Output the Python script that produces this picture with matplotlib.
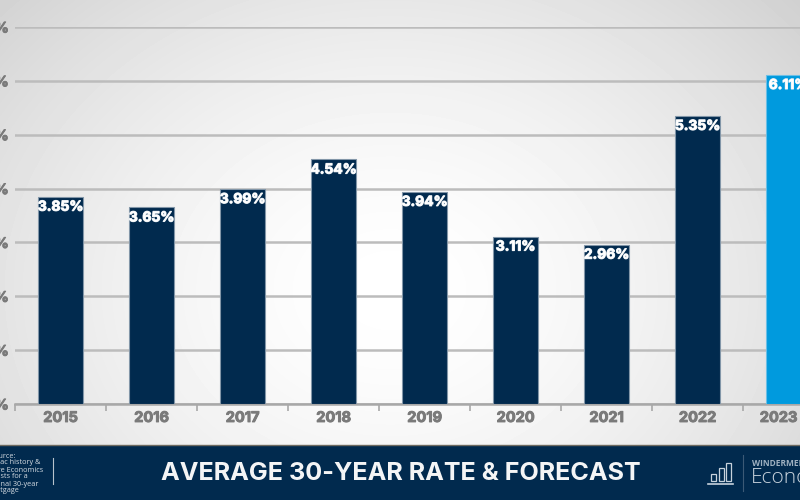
import numpy as np
import matplotlib
matplotlib.use("Agg")
import matplotlib.pyplot as plt
from matplotlib.patches import Rectangle
from matplotlib.transforms import ScaledTranslation
import matplotlib.patheffects as pe

years = ["2015", "2016", "2017", "2018", "2019", "2020", "2021", "2022", "2023"]
rates = [3.85, 3.65, 3.99, 4.54, 3.94, 3.11, 2.96, 5.35, 6.11]
rate_labels = ["3.85%", "3.65%", "3.99%", "4.54%", "3.94%", "3.11%", "2.96%", "5.35%", "6.11%"]
y_ticks = [0, 1, 2, 3, 4, 5, 6, 7]
y_labels = ["0%", "1%", "2%", "3%", "4%", "5%", "6%", "7%"]
title = "AVERAGE 30-YEAR RATE & FORECAST"
source_text = "Source:\nFreddie Mac history &\nWindermere Economics\nforecasts for a\nconventional 30-year\nmortgage"

NAVY = "#012a4e"
BLUE = "#009ade"
W, H = 800, 500

fig = plt.figure(figsize=(8, 5), dpi=100)

# page background: soft radial gradient
bg = fig.add_axes([0, 0, 1, 1], zorder=0)
bg.set_xlim(0, W); bg.set_ylim(H, 0); bg.axis("off")
yy, xx = np.mgrid[0:H, 0:W]
r = np.sqrt(((xx - 390) / 520.0) ** 2 + ((yy - 290) / 420.0) ** 2)
shade = 1.0 - 0.17 * np.clip(r, 0, 1.2) ** 1.6
bg.imshow(shade, cmap="gray", vmin=0, vmax=1, extent=(0, W, H, 0), aspect="auto")

# chart
left, right, top, bottom = 15, 834, 27, 404
ax = fig.add_axes([left / W, 1 - bottom / H, (right - left) / W, (bottom - top) / H], zorder=1)
ax.patch.set_alpha(0)
xpos = np.arange(len(years))
colors = [NAVY] * 8 + [BLUE]
edges = ["#8296a8"] * 8 + ["#6cbfe6"]
ax.bar(xpos, rates, width=0.5, color=colors, edgecolor=edges, linewidth=0.8, zorder=3)
ax.set_xlim(-0.5, 8.5)
ax.set_ylim(0, 7)
ax.set_yticks(y_ticks, y_labels)
ax.set_xticks(xpos, years)
ax.set_xticks(np.arange(-0.5, 9), minor=True)
ax.yaxis.grid(True, color="#bcbcbc", linewidth=1.8, zorder=1)
ax.set_axisbelow(True)
for s in ["top", "right", "left"]:
    ax.spines[s].set_visible(False)
ax.spines["bottom"].set_color("#a8a8a8")
ax.spines["bottom"].set_linewidth(1.8)
ax.tick_params(axis="x", which="major", length=0, pad=5, labelsize=10.5, labelcolor="#7a7a7a")
ax.tick_params(axis="x", which="minor", length=5, width=1.2, color="#a8a8a8")
ax.tick_params(axis="y", length=0, pad=4.5, labelsize=10.5, labelcolor="#7a7a7a")
for lab in ax.get_xticklabels() + ax.get_yticklabels():
    lab.set_fontfamily("Inter")
    lab.set_fontweight("bold")
    lab.set_path_effects([pe.withStroke(linewidth=0.7, foreground="#7a7a7a")])
# the last year label is pulled in so that it stays inside the picture
last = ax.get_xticklabels()[-1]
last.set_transform(last.get_transform() + ScaledTranslation(-10 / 100, 0, fig.dpi_scale_trans))

for x, v, t in zip(xpos, rates, rate_labels):
    ax.annotate(t, (x, v), xytext=(0, -2.2), textcoords="offset points", ha="center", va="top",
                color="white", fontsize=10, fontweight="bold", family="Inter", zorder=5,
                annotation_clip=False,
                path_effects=[pe.withStroke(linewidth=0.8, foreground="#e8edf1")])

# footer
ov = fig.add_axes([0, 0, 1, 1], zorder=2)
ov.set_xlim(0, W); ov.set_ylim(H, 0); ov.axis("off"); ov.patch.set_alpha(0)
ov.add_patch(Rectangle((0, 445), W, 55, color=NAVY, lw=0))
ov.plot([0, W], [444.5, 444.5], color="#6e6a60", lw=1)
ov.text(401, 473, title, color="#f4f5f6", ha="center", va="center", fontsize=18.1,
        fontweight="bold", family="Inter")
ov.text(3, 473.5, source_text, color="#d5dce3", fontsize=5.2, family="Open Sans",
        ha="center", va="center", multialignment="center", linespacing=1.0)
ov.plot([52.5, 52.5], [458, 484], color="#b7c2cc", lw=0.8)
ov.plot([742.5, 742.5], [455, 491], color="#3c5a76", lw=0.8)

# logo mark
for x0, y0 in zip([711, 718.5, 726], [474, 468, 463]):
    ov.add_patch(Rectangle((x0, y0), 5, 481 - y0, fill=False, edgecolor="#c7d2dc", lw=0.9))
ov.plot([708, 733], [483.5, 483.5], color="#c7d2dc", lw=1.2)
ov.text(752, 464, "WINDERMERE", color="#9fb1c1", fontsize=6, family="Open Sans",
        fontweight="bold", va="center", ha="left")
ov.text(751, 478, "Economics", color="#c7d2dc", fontsize=15, family="Open Sans",
        fontweight="light", va="center", ha="left")

fig.savefig("out.png", dpi=100)
